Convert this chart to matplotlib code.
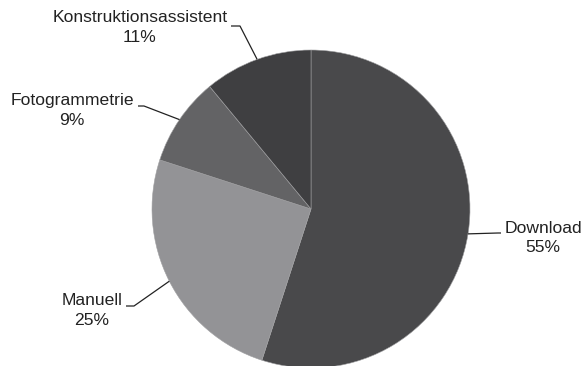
import numpy as np
import matplotlib.pyplot as plt

labels = ["Download", "Manuell", "Fotogrammetrie", "Konstruktionsassistent"]
shares = [55, 25, 9, 11]
colors = ["#49494b", "#939396", "#636365", "#3f3f41"]

# text block centres (pixel layout, y measured from bottom)
text_pos = [(543, 128), (92, 55.5), (72, 255.5), (140, 338.5)]
# elbow where the leader turns horizontal
elbow = [(498, 133), (134, 60), (144, 260), (240, 340)]
text_edge = [(501, 133), (126, 60), (138, 260), (231, 340)]

W, H = 581, 366
cx, cy, r = 311, 157, 159

def main():
    plt.rcParams["font.family"] = ["Liberation Sans", "DejaVu Sans"]
    fig = plt.figure(figsize=(W / 100, H / 100), dpi=100)
    ax = fig.add_axes([0, 0, 1, 1])
    ax.set_xlim(0, W)
    ax.set_ylim(0, H)
    ax.set_aspect("equal")
    ax.axis("off")

    wedges, _ = ax.pie(shares, colors=colors, startangle=90, counterclock=False,
                       center=(cx, cy), radius=r,
                       wedgeprops=dict(edgecolor="#a0a0a2", linewidth=0.4))
    ax.set_xlim(0, W)
    ax.set_ylim(0, H)

    for w, lab, val, tp, el, te in zip(wedges, labels, shares, text_pos, elbow, text_edge):
        mid = np.deg2rad((w.theta1 + w.theta2) / 2)
        px, py = cx + r * np.cos(mid), cy + r * np.sin(mid)
        ax.plot([px, el[0], te[0]], [py, el[1], te[1]], color="#222222", lw=0.9,
                solid_capstyle="butt")
        ax.text(tp[0], tp[1], f"{lab}\n{val}%", ha="center", va="center",
                multialignment="center", fontsize=12.6, color="#222222",
                linespacing=1.4)

    fig.savefig("out.png", dpi=100)

if __name__ == "__main__":
    main()
